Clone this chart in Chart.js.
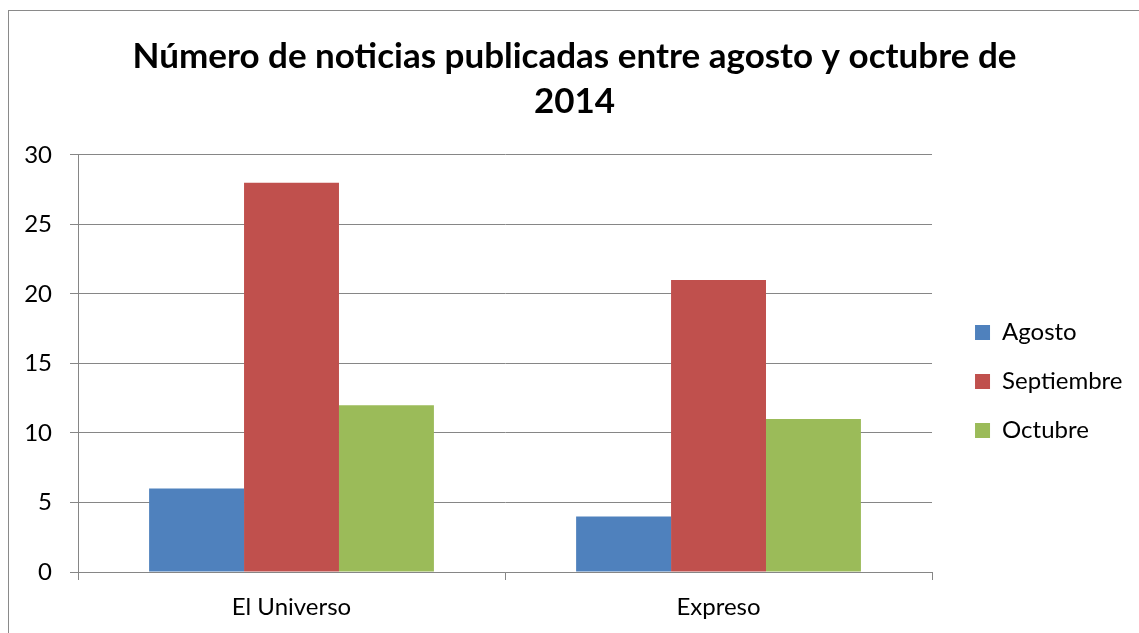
<!DOCTYPE html>
<html>
<head>
<meta charset="utf-8">
<title>Número de noticias publicadas entre agosto y octubre de 2014</title>
<script src="https://cdn.jsdelivr.net/npm/chart.js@4/dist/chart.umd.min.js"></script>
<style>
    html, body { margin: 0; padding: 0; background: #fff; overflow: hidden; }
    #frame {
        position: absolute; left: 8px; top: 10px;
        width: 1200px; height: 700px;
        border: 1px solid #8a8a8a;
    }
    #chart { position: absolute; left: 0; top: 0; }
</style>
</head>
<body>
<div id="frame"></div>
<canvas id="chart" width="1139" height="633"></canvas>
<script>
// ============================================
// Data
// ============================================

const categories = ['El Universo', 'Expreso'];
const agosto = [6, 4];
const septiembre = [28, 21];
const octubre = [12, 11];
const yTicks = { min: 0, max: 30, step: 5 };
const titleLines = ['Número de noticias publicadas entre agosto y octubre de', '2014'];

// ============================================
// Styles
// ============================================

const gridColor = '#868686';
const fontFamily = 'Lato, "Open Sans", sans-serif';

Chart.defaults.font.family = fontFamily;
Chart.defaults.color = '#000';

const layoutTweaks = {
    id: 'layoutTweaks',
    afterLayout(chart) {
        // title centred over the whole frame, not only the padded box
        chart.titleBlock.left = 10;
        chart.titleBlock.right = chart.width;
        // legend sits further from the plot than its own padding allows
        const legend = chart.legend;
        legend.left += 18;
        legend.right += 18;
        legend.top += 65;
        legend.bottom += 65;
    }
};

const ctx = document.getElementById('chart').getContext('2d');
new Chart(ctx, {
    type: 'bar',
    data: {
        labels: categories,
        datasets: [
            { label: 'Agosto', data: agosto, backgroundColor: '#4F81BD' },
            { label: 'Septiembre', data: septiembre, backgroundColor: '#C0504D' },
            { label: 'Octubre', data: octubre, backgroundColor: '#9BBB59' }
        ]
    },
    options: {
        responsive: false,
        animation: false,
        layout: { padding: { left: 10, right: 24.5, top: 0, bottom: 0 } },
        datasets: {
            bar: { categoryPercentage: 0.667, barPercentage: 1.0 }
        },
        plugins: {
            title: {
                display: true,
                text: titleLines,
                color: '#000',
                font: { size: 35, weight: 'bold', lineHeight: 1.2857 },
                padding: { top: 34.5, bottom: 30.5 }
            },
            legend: {
                position: 'right',
                labels: {
                    boxWidth: 15,
                    boxHeight: 15,
                    padding: 25,
                    font: { size: 24 },
                    color: '#000'
                }
            },
            tooltip: { enabled: false }
        },
        scales: {
            x: {
                grid: {
                    offset: true,
                    drawOnChartArea: false,
                    drawTicks: true,
                    tickLength: 8,
                    color: gridColor
                },
                border: { display: true, color: gridColor },
                ticks: { padding: 13, font: { size: 24 }, color: '#000' },
                afterFit(scale) { scale.height = 61; }
            },
            y: {
                min: yTicks.min,
                max: yTicks.max,
                grid: { color: gridColor, tickLength: 8, drawTicks: true },
                border: { display: true, color: gridColor },
                ticks: { stepSize: yTicks.step, padding: 18, font: { size: 24 }, color: '#000' },
                afterFit(scale) { scale.width = 68; }
            }
        }
    },
    plugins: [layoutTweaks]
});
</script>
</body>
</html>
